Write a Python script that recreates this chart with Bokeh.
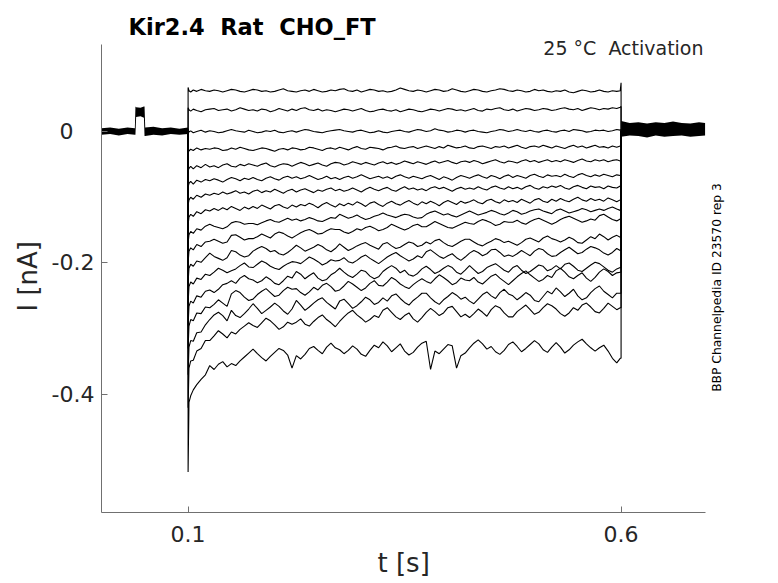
import math
from bokeh.plotting import figure
from bokeh.models import Range1d, FixedTicker, Label, Title
from bokeh.embed import file_html
from bokeh.resources import INLINE

# ---------------- data (currents in pA) ----------------
HOLD = 0  # holding current level (pA)

# time points of the test pulse (s)
T_STEP = [0.100, 0.101, 0.103, 0.106, 0.110, 0.115, 0.120,
          0.125, 0.130, 0.135, 0.140, 0.145, 0.150, 0.155, 0.160, 0.165, 0.170,
          0.175, 0.180, 0.185, 0.190, 0.195, 0.200, 0.205, 0.210, 0.215, 0.220,
          0.225, 0.230, 0.235, 0.240, 0.245, 0.250, 0.255, 0.260, 0.265, 0.270,
          0.275, 0.280, 0.285, 0.290, 0.295, 0.300, 0.305, 0.310, 0.315, 0.320,
          0.325, 0.330, 0.335, 0.340, 0.345, 0.350, 0.355, 0.360, 0.365, 0.370,
          0.375, 0.380, 0.385, 0.390, 0.395, 0.400, 0.405, 0.410, 0.415, 0.420,
          0.425, 0.430, 0.435, 0.440, 0.445, 0.450, 0.455, 0.460, 0.465, 0.470,
          0.475, 0.480, 0.485, 0.490, 0.495, 0.500, 0.505, 0.510, 0.515, 0.520,
          0.525, 0.530, 0.535, 0.540, 0.545, 0.550, 0.555, 0.560, 0.565, 0.570,
          0.575, 0.580, 0.585, 0.590, 0.595,
          0.599, 0.600]
STEP_ON = 0.1
STEP_OFF = 0.6

sweep_01 = [67, 62, 60, 63, 61, 64, 62,
            61, 63, 62, 60, 62, 64, 63, 61, 60, 62,
            64, 63, 61, 62, 60, 61, 63, 65, 62, 61,
            60, 62, 63, 61, 64, 62, 60, 61, 63, 62,
            64, 65, 62, 61, 63, 60, 62, 64, 63, 61,
            62, 60, 61, 63, 66, 64, 62, 61, 63, 62,
            60, 62, 64, 63, 61, 62, 65, 63, 61, 60,
            62, 64, 63, 61, 60, 62, 63, 65, 64, 62,
            61, 63, 62, 60, 61, 64, 62, 63, 61, 60,
            62, 61, 63, 60, 59, 61, 63, 62, 60, 61,
            63, 61, 60, 62, 61,
            62, 74]
sweep_02 = [36, 33, 31, 34, 32, 30, 33,
            34, 35, 32, 33, 34, 31, 33, 36, 34, 32,
            33, 31, 34, 33, 30, 32, 35, 33, 31, 34,
            32, 35, 36, 33, 32, 34, 31, 33, 32, 30,
            32, 34, 33, 31, 33, 35, 32, 30, 31, 33,
            34, 32, 31, 33, 30, 32, 34, 33, 31, 30,
            32, 34, 33, 31, 33, 35, 34, 32, 33, 31,
            33, 35, 32, 31, 34, 33, 35, 36, 33, 32,
            34, 31, 33, 35, 34, 32, 33, 35, 34, 32,
            33, 35, 36, 34, 33, 35, 32, 34, 36, 35,
            33, 35, 34, 36, 35,
            37, 38]
sweep_03 = [4, -1, 1, -2, 0, 2, -1,
            1, 0, -2, -1, 1, 3, 1, 0, -1, 2,
            0, -2, -1, 1, 0, 2, -1, -2, 0, 1,
            -1, 1, 3, 2, 0, -1, -2, 0, 1, 2,
            3, 1, 0, -1, 1, 2, 0, -2, -1, 1,
            -1, -2, 0, 1, 2, 0, -1, 1, 3, 2,
            0, 1, 4, 2, 1, -1, 0, 2, 1, -1,
            1, 2, 0, -1, -2, 0, 1, 3, 2, 0,
            1, 3, 1, 0, 2, 0, -1, 1, 2, 0,
            -1, 1, 2, 0, 3, 2, 1, -1, 0, 2,
            1, 2, 0, 1, 3,
            2, 3]
sweep_04 = [-24, -30, -27, -29, -25, -28, -26,
            -27, -25, -26, -29, -28, -25, -27, -24, -26, -28,
            -29, -27, -25, -26, -28, -30, -27, -26, -28, -25,
            -26, -28, -27, -24, -25, -27, -29, -26, -25, -27,
            -24, -26, -28, -25, -23, -26, -27, -24, -25, -26,
            -28, -25, -24, -22, -25, -26, -24, -23, -26, -24,
            -22, -24, -26, -23, -25, -21, -23, -25, -24, -22,
            -25, -26, -23, -22, -24, -26, -23, -24, -22, -25,
            -23, -21, -24, -26, -23, -22, -24, -21, -23, -25,
            -22, -24, -26, -23, -21, -24, -22, -25, -23, -21,
            -24, -23, -25, -22, -24,
            -22, -22]
sweep_05 = [-60, -56, -53, -57, -52, -55, -50,
            -54, -52, -55, -51, -49, -53, -54, -50, -52, -49,
            -51, -53, -50, -48, -52, -54, -51, -49, -50, -53,
            -50, -47, -49, -52, -50, -48, -51, -53, -49, -47,
            -48, -51, -49, -46, -48, -50, -47, -49, -51, -48,
            -46, -49, -47, -50, -48, -45, -47, -49, -46, -48,
            -50, -47, -45, -48, -46, -44, -47, -49, -46, -45,
            -47, -44, -46, -49, -47, -45, -43, -46, -48, -45,
            -46, -48, -45, -43, -46, -44, -47, -45, -43, -46,
            -44, -46, -43, -45, -47, -44, -42, -45, -46, -43,
            -45, -43, -46, -44, -43,
            -45, -45]
sweep_06 = [-85, -79, -76, -80, -74, -77, -73,
            -75, -72, -74, -77, -73, -70, -72, -75, -71, -73,
            -70, -73, -75, -71, -69, -72, -74, -70, -68, -71,
            -69, -72, -70, -67, -70, -73, -71, -68, -72, -70,
            -73, -70, -68, -71, -69, -66, -69, -72, -70, -68,
            -71, -69, -72, -68, -66, -69, -71, -68, -70, -72,
            -69, -67, -70, -73, -69, -71, -74, -70, -67, -69,
            -71, -68, -66, -69, -71, -67, -69, -72, -68, -66,
            -70, -67, -69, -71, -67, -65, -68, -70, -66, -68,
            -67, -69, -65, -68, -70, -66, -64, -67, -69, -66,
            -68, -65, -67, -69, -66,
            -67, -67]
sweep_07 = [-112, -104, -100, -103, -97, -100, -95,
            -97, -94, -96, -92, -95, -93, -90, -94, -92, -95,
            -91, -89, -93, -90, -92, -88, -91, -94, -90, -88,
            -92, -89, -87, -90, -93, -89, -91, -88, -86, -90,
            -88, -91, -89, -86, -89, -92, -88, -85, -88, -90,
            -87, -85, -89, -91, -87, -84, -88, -86, -89, -87,
            -90, -86, -84, -87, -85, -88, -91, -87, -85, -88,
            -86, -88, -84, -87, -89, -85, -83, -86, -88, -84,
            -87, -85, -88, -84, -82, -86, -88, -84, -86, -83,
            -85, -82, -86, -88, -84, -82, -85, -87, -83, -85,
            -84, -87, -83, -85, -86,
            -83, -83]
sweep_08 = [-142, -130, -126, -129, -122, -125, -119,
            -121, -117, -120, -116, -119, -114, -117, -120, -115, -118,
            -114, -117, -112, -115, -118, -113, -111, -115, -117, -112,
            -115, -111, -113, -109, -112, -116, -111, -108, -112, -115,
            -110, -113, -109, -112, -107, -110, -114, -109, -107, -111,
            -114, -109, -106, -110, -112, -108, -105, -109, -112, -107,
            -110, -106, -109, -113, -108, -105, -108, -111, -106, -109,
            -107, -104, -108, -110, -105, -103, -107, -109, -104, -107,
            -105, -108, -103, -106, -109, -104, -102, -106, -108, -103,
            -106, -102, -105, -107, -103, -100, -104, -106, -102, -105,
            -103, -106, -101, -104, -107,
            -104, -104]
sweep_09 = [-170, -157, -152, -155, -148, -150, -144,
            -141, -144, -146, -148, -145, -139, -137, -138, -141, -140,
            -140, -142, -139, -136, -134, -137, -138, -135, -132, -135,
            -133, -136, -134, -131, -133, -136, -137, -134, -131, -132,
            -126, -129, -132, -130, -127, -131, -134, -132, -129, -127,
            -124, -127, -129, -131, -128, -126, -127, -130, -132, -131,
            -126, -123, -121, -124, -127, -125, -128, -130, -127, -124,
            -121, -124, -127, -125, -123, -120, -122, -125, -127, -124,
            -120, -122, -126, -124, -121, -119, -118, -121, -123, -125,
            -120, -118, -121, -124, -122, -120, -117, -119, -122, -120,
            -118, -120, -117, -115, -118,
            -120, -120]
sweep_10 = [-200, -182, -177, -180, -172, -175, -168,
            -167, -164, -167, -170, -168, -158, -157, -161, -165, -163,
            -163, -160, -156, -159, -162, -156, -153, -155, -159, -162,
            -158, -154, -151, -149, -152, -156, -155, -151, -148, -149,
            -149, -153, -155, -152, -148, -150, -146, -144, -147, -151,
            -149, -146, -141, -144, -147, -150, -147, -143, -141, -145,
            -145, -141, -137, -140, -143, -146, -147, -144, -141, -138,
            -140, -141, -137, -134, -136, -139, -143, -141, -137, -138,
            -138, -135, -139, -141, -137, -134, -132, -135, -138, -141,
            -138, -134, -131, -129, -132, -135, -138, -136, -133, -135,
            -128, -126, -130, -134, -136,
            -133, -133]
sweep_11 = [-230, -208, -202, -205, -197, -199, -192,
            -185, -190, -193, -196, -192, -181, -183, -188, -191, -189,
            -182, -178, -175, -178, -183, -181, -186, -188, -184, -179,
            -173, -177, -182, -179, -176, -172, -175, -180, -183, -178,
            -171, -176, -181, -178, -174, -171, -169, -173, -176, -179,
            -171, -169, -174, -178, -176, -172, -168, -170, -175, -173,
            -168, -171, -166, -164, -169, -173, -175, -171, -167, -164,
            -164, -168, -172, -174, -170, -167, -163, -165, -169, -167,
            -170, -173, -169, -164, -162, -165, -168, -162, -159, -163,
            -165, -168, -165, -161, -164, -169, -170, -165, -160, -163,
            -156, -160, -165, -161, -158,
            -161, -161]
sweep_12 = [-262, -236, -229, -232, -223, -225, -217,
            -219, -214, -208, -211, -215, -212, -209, -204, -200, -206,
            -207, -202, -197, -200, -205, -208, -210, -205, -201, -198,
            -199, -201, -196, -191, -194, -198, -203, -200, -195, -197,
            -196, -192, -198, -200, -196, -191, -188, -193, -197, -201,
            -196, -191, -187, -184, -189, -193, -197, -194, -189, -192,
            -183, -180, -185, -190, -193, -189, -186, -192, -196, -191,
            -185, -181, -184, -189, -186, -180, -179, -184, -190, -188,
            -190, -186, -181, -185, -189, -182, -178, -180, -186, -190,
            -189, -184, -180, -176, -181, -186, -184, -179, -175, -177,
            -180, -185, -188, -184, -178,
            -181, -181]
sweep_13 = [-295, -266, -258, -261, -250, -252, -243,
            -241, -245, -240, -233, -231, -227, -231, -223, -219, -224,
            -226, -230, -227, -221, -225, -231, -233, -227, -220, -223,
            -213, -217, -224, -219, -215, -223, -227, -225, -218, -214,
            -208, -214, -219, -222, -217, -211, -213, -220, -224, -221,
            -213, -208, -204, -208, -215, -211, -218, -220, -216, -209,
            -205, -210, -216, -213, -208, -204, -207, -214, -217, -211,
            -204, -210, -216, -213, -207, -204, -201, -206, -211, -214,
            -207, -204, -211, -216, -213, -208, -203, -205, -212, -209,
            -204, -209, -202, -200, -205, -211, -213, -208, -203, -199,
            -201, -206, -211, -214, -209,
            -207, -207]
sweep_14 = [-330, -296, -286, -288, -276, -277, -267,
            -268, -263, -256, -261, -266, -247, -242, -245, -252, -257,
            -255, -248, -243, -239, -245, -251, -249, -242, -237, -240,
            -239, -245, -249, -244, -237, -241, -234, -231, -236, -243,
            -241, -235, -228, -232, -237, -242, -238, -231, -227, -234,
            -235, -229, -222, -226, -232, -236, -239, -233, -228, -224,
            -228, -231, -224, -218, -222, -227, -233, -230, -223, -226,
            -227, -222, -229, -232, -226, -220, -217, -223, -228, -233,
            -227, -221, -216, -212, -218, -223, -228, -225, -219, -222,
            -212, -208, -214, -221, -224, -219, -215, -223, -228, -222,
            -214, -209, -213, -219, -215,
            -214, -214]
sweep_15 = [-370, -328, -318, -319, -306, -305, -294,
            -286, -279, -275, -280, -288, -272, -280, -283, -277, -270,
            -262, -269, -277, -272, -267, -261, -266, -273, -278, -270,
            -257, -264, -272, -267, -261, -256, -253, -260, -265, -270,
            -258, -255, -262, -269, -265, -259, -252, -256, -263, -260,
            -253, -258, -250, -247, -254, -260, -264, -257, -252, -246,
            -246, -253, -259, -263, -256, -251, -245, -249, -255, -252,
            -258, -262, -255, -248, -244, -250, -254, -245, -240, -247,
            -250, -256, -251, -245, -249, -257, -259, -251, -243, -247,
            -238, -244, -251, -246, -240, -250, -256, -253, -245, -239,
            -235, -243, -248, -253, -246,
            -246, -246]
sweep_16 = [-420, -360, -349, -348, -334, -330, -318,
            -318, -311, -303, -308, -314, -305, -308, -301, -296, -291,
            -295, -298, -291, -284, -288, -294, -301, -297, -290, -293,
            -290, -285, -293, -296, -289, -283, -279, -286, -291, -297,
            -289, -282, -276, -272, -279, -284, -290, -286, -280, -283,
            -272, -268, -275, -282, -286, -280, -276, -285, -290, -283,
            -275, -269, -274, -280, -276, -268, -266, -274, -282, -278,
            -283, -277, -270, -275, -281, -271, -265, -268, -276, -282,
            -282, -274, -269, -264, -271, -278, -275, -268, -262, -265,
            -270, -277, -281, -276, -268, -272, -264, -261, -267, -274,
            -276, -269, -261, -266, -271,
            -268, -268]
sweep_17 = [-518, -412, -402, -393, -385, -377, -370,
            -356, -362, -354, -350, -358, -353, -356, -349, -343, -337,
            -331, -338, -344, -349, -342, -336, -330, -333, -340, -360,
            -341, -346, -339, -330, -327, -333, -338, -328, -322, -329,
            -332, -338, -333, -326, -331, -339, -342, -333, -325, -329,
            -320, -326, -335, -329, -323, -334, -340, -336, -328, -322,
            -319, -362, -334, -338, -331, -324, -326, -360, -341, -337,
            -329, -322, -317, -323, -331, -327, -335, -339, -333, -324,
            -320, -327, -335, -330, -324, -318, -323, -332, -336, -328,
            -321, -328, -337, -332, -325, -320, -316, -323, -329, -334,
            -329, -325, -334, -345, -352,
            -345, -345]

SWEEPS = [sweep_01, sweep_02, sweep_03, sweep_04, sweep_05, sweep_06,
          sweep_07, sweep_08, sweep_09, sweep_10, sweep_11, sweep_12,
          sweep_13, sweep_14, sweep_15, sweep_16, sweep_17]

# overlapping holding-current band before the pulse (envelope, pA)
PRE_T = [0.000, 0.010, 0.020, 0.030, 0.0385, 0.0392, 0.0400, 0.045, 0.0490,
         0.0497, 0.0505, 0.060, 0.070, 0.080, 0.090, 0.0999]
PRE_HI = [5, 6, 4, 6, 5, 38, 37, 36, 38, 38, 6, 7, 5, 6, 4, 6]
PRE_LO = [-5, -4, -6, -4, -5, -5, 22, 23, 21, -7, -7, -5, -6, -4, -5, -4]

# overlapping holding-current band after the pulse (envelope, pA)
POST_T = [0.6001, 0.61, 0.62, 0.63, 0.64, 0.65, 0.66, 0.67, 0.68, 0.69, 0.697]
POST_HI = [16, 13, 14, 12, 14, 13, 15, 13, 12, 14, 13]
POST_LO = [-8, -6, -7, -9, -6, -8, -7, -6, -8, -7, -6]

X_TICKS = [0.1, 0.6]
Y_TICKS = [-0.4, -0.2, 0.0]
# the "0" label sits left of the others in the reference (padded label)
Y_TICK_LABELS = {-0.4: "-0.4", -0.2: "-0.2", 0.0: "0\u00a0\u00a0\u00a0"}
X_DATA = (0.0, 0.697)         # extent of the time axis
Y_DATA = (-0.5795, 0.1323)    # extent of the current axis

TITLE = "Kir2.4  Rat  CHO_FT"
CONDITION = "25 °C  Activation"
SOURCE = "BBP Channelpedia ID 23570 rep 3"
X_LABEL = "t [s]"
Y_LABEL = "I [nA]"

# ---------------- figure ----------------
FONT = "DejaVu Sans"
NB = "\u00a0\u00a0"
# frame is made a bit larger than the data area so that the labels fit;
# the axis lines are bounded to the data area.
p = figure(width=760, height=583, output_backend="svg", toolbar_location=None,
           title=None,
           x_range=Range1d(0.0, 0.7379), y_range=Range1d(-0.5795, 0.1916),
           min_border_left=101, min_border_right=20, min_border_top=5,
           min_border_bottom=71)
p.background_fill_color = "white"
p.border_fill_color = "white"
p.outline_line_color = None
p.grid.visible = False

to_nA = 1.0 / 1000.0

p.varea(x=PRE_T, y1=[v * to_nA for v in PRE_LO], y2=[v * to_nA for v in PRE_HI],
        fill_color="black")
p.varea(x=POST_T, y1=[v * to_nA for v in POST_LO], y2=[v * to_nA for v in POST_HI],
        fill_color="black")

for sw in SWEEPS:
    assert len(sw) == len(T_STEP), len(sw)
    xs = [STEP_ON] + T_STEP + [STEP_OFF]
    ys = [HOLD * to_nA] + [v * to_nA for v in sw] + [HOLD * to_nA]
    p.line(xs, ys, line_color="black", line_width=1.1)

for ax in (p.xaxis[0], p.yaxis[0]):
    ax.axis_line_color = "#707070"
    ax.axis_line_width = 1
    ax.major_tick_line_color = "#707070"
    ax.major_tick_in = 6
    ax.major_tick_out = 0
    ax.minor_tick_line_color = None
    ax.major_label_text_font = FONT
    ax.major_label_text_font_size = "22px"
    ax.major_label_text_color = "#262626"

p.xaxis.bounds = X_DATA
p.yaxis.bounds = Y_DATA
p.xaxis.ticker = FixedTicker(ticks=X_TICKS)
p.yaxis.ticker = FixedTicker(ticks=Y_TICKS)
p.yaxis.major_label_overrides = Y_TICK_LABELS
p.xaxis.major_label_standoff = 13
p.yaxis.major_label_standoff = 7

# axis titles, positioned along the data extent (not the enlarged frame)
p.add_layout(Title(text=Y_LABEL, align="left", offset=201, standoff=12,
                   vertical_align="bottom", text_font=FONT,
                   text_font_size="26px", text_font_style="normal",
                   text_color="#262626"), "left")
p.add_layout(Title(text=X_LABEL, align="left", offset=276, standoff=6,
                   vertical_align="top", text_font=FONT,
                   text_font_size="26px", text_font_style="normal",
                   text_color="#262626"), "below")

p.add_layout(Label(x=0.0312, y=0.1586, text=TITLE.replace("  ", NB),
                   text_align="left", text_baseline="alphabetic",
                   text_font=FONT, text_font_size="22.5px",
                   text_font_style="bold", text_color="black"))
p.add_layout(Label(x=0.6952, y=0.1273, text=CONDITION.replace("  ", NB),
                   text_align="right", text_baseline="alphabetic",
                   text_font=FONT, text_font_size="19px",
                   text_color="#262626"))
p.add_layout(Label(x=0.7102, y=-0.2373, text=SOURCE, angle=math.pi / 2,
                   text_align="center", text_baseline="middle", text_font=FONT,
                   text_font_size="12.3px", text_color="black"))

open("out.html", "w").write(file_html(p, INLINE))
